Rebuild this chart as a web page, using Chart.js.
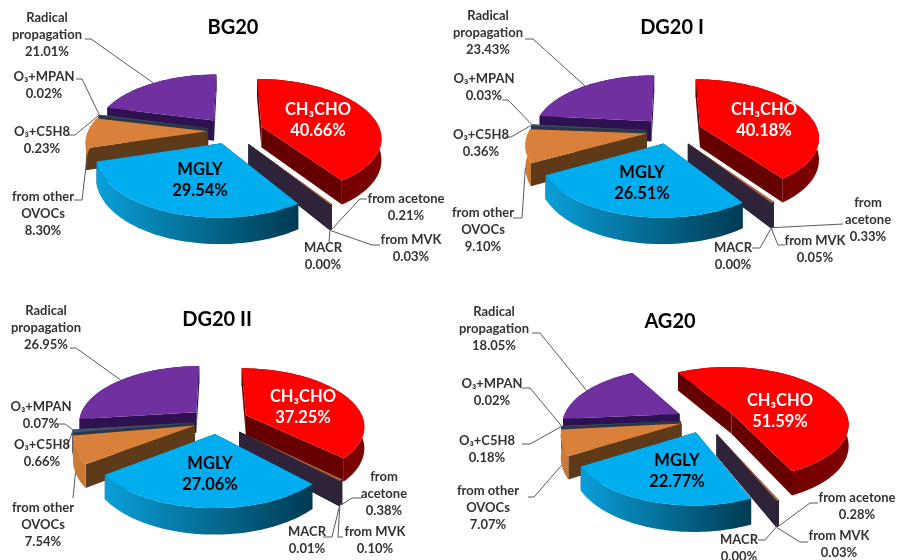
<!DOCTYPE html>
<html>
<head>
<meta charset="utf-8">
<title>Pie charts</title>
<script src="https://cdn.jsdelivr.net/npm/chart.js@4"></script>
<style>
  html, body { margin: 0; background: #fff; overflow: hidden; }
  #page { position: relative; width: 897px; height: 560px; }
  #page canvas { position: absolute; left: 0; top: 0; }
</style>
</head>
<body>
<div id="page"></div>
<script>
const categories = ['CH₃CHO', 'from acetone', 'from MVK', 'MACR', 'MGLY', 'from other OVOCs', 'O₃+C5H8', 'O₃+MPAN', 'Radical propagation'];

const bg20Values = [40.66, 0.21, 0.03, 0.00, 29.54, 8.30, 0.23, 0.02, 21.01];
const dg20iValues = [40.18, 0.33, 0.05, 0.00, 26.51, 9.10, 0.36, 0.03, 23.43];
const dg20iiValues = [37.25, 0.38, 0.10, 0.01, 27.06, 7.54, 0.66, 0.07, 26.95];
const ag20Values = [51.59, 0.28, 0.03, 0.00, 22.77, 7.07, 0.18, 0.02, 18.05];

const topColors = ['#ff0000', '#c0693f', '#8a5a44', '#a0522d', '#00adef', '#d9813b', '#44546a', '#8497b0', '#7030a0'];
const edgeColors = ['#660000', '#2e2339', '#2e2339', '#2e2339', '#004a66', '#5f3a18', '#2b3648', '#2b3648', '#2e1150'];
const rimColors = [['#5e0000', '#7e0000'], ['#2e2339', '#2e2339'], ['#2e2339', '#2e2339'], ['#2e2339', '#2e2339'],
  ['#0a9fd8', '#003a52'], ['#d07c38', '#c87632'], ['#2b3648', '#2b3648'], ['#2b3648', '#2b3648'], ['#2e1150', '#2e1150']];

// how far each slice is pulled out of the pie, as a share of the radius
const pull = [0.27, 0.26, 0.26, 0.26, 0.22, 0.2, 0.2, 0.2, 0.24];
// back to front, so nearer slices cover the walls behind them
const drawOrder = [8, 7, 6, 5, 0, 1, 2, 3, 4];
// leaders for these slices end at the foot of the wall, not on the top face
const footAnchored = [1, 2, 3, 5];

const PERSPECTIVE = 0.17;
const SQUASH = 0.48;
const DEPTH = 21;

const panels = [
  {
    title: 'BG20', titlePos: [233, 28], values: bg20Values, center: [231, 131], radius: 119, rotation: 0,
    textPos: [[318, 110], [406, 199], [411, 240], [323, 248], [200, 170], [43, 197], [42, 132], [44, 77], [47, 18]],
    elbows: [null, [[367, 199], [360, 199]], [[380, 245], [372, 245]], [[329, 242]], null,
      [[74, 200], [82, 200]], [[68, 135], [75, 135]], [[76, 79], [82, 79]], [[85, 39], [91, 39]]]
  },
  {
    title: 'DG20 I', titlePos: [672, 28], values: dg20iValues, center: [670, 131], radius: 118, rotation: 0, splitAcetone: true,
    textPos: [[764, 110], [868, 203], [815, 241], [733, 248], [642, 173], [483, 213], [481, 135], [484, 79], [488, 16]],
    elbows: [null, [[843, 224]], [[785, 245], [778, 245]], [[752, 248], [760, 248]], null,
      [[513, 218], [522, 218]], [[505, 137], [511, 137]], [[502, 100], [508, 100]], [[525, 39], [533, 39]]]
  },
  {
    title: 'DG20 II', titlePos: [217, 320], values: dg20iiValues, center: [217, 421], radius: 118, rotation: 0, splitAcetone: true,
    textPos: [[303, 397], [384, 477], [375, 532], [307, 532], [210, 464], [43, 508], [42, 445], [41, 407], [46, 311]],
    elbows: [null, [[362, 498], [352, 498]], [[343, 537], [338, 537]], [[323, 537], [332, 537]], null,
      [[73, 498]], [[67, 447]], [[58, 424], [65, 424]], [[70, 348], [76, 348]]]
  },
  {
    title: 'AG20', titlePos: [670, 322], values: ag20Values, center: [704, 420], radius: 117, rotation: -30,
    textPos: [[780, 401], [857, 498], [839, 536], [739, 540], [677, 461], [488, 491], [487, 441], [492, 384], [494, 312]],
    elbows: [null, [[818, 503], [810, 503]], [[808, 542], [800, 542]], [[758, 540], [765, 540]], null,
      [[528, 497], [534, 497]], [[522, 444], [530, 444]], [[522, 388], [530, 388]], [[532, 333], [540, 333]]]
  }
];

// maps a point on the pie's plane (radius 1) to the screen; h pushes it down the wall
function projector(arc) {
  const r = arc.outerRadius;
  return (x, y, h = 0) => {
    const w = 1 - PERSPECTIVE * y;
    return [arc.x + x * r / w, arc.y + (SQUASH * r * y + h) / w];
  };
}

function sliceGeometry(arc, index) {
  const mid = (arc.startAngle + arc.endAngle) / 2;
  const ox = Math.cos(mid) * pull[index];
  const oy = Math.sin(mid) * pull[index];
  const project = projector(arc);
  return {
    mid,
    at: (angle, r, h) => project(ox + r * Math.cos(angle), oy + r * Math.sin(angle), h)
  };
}

function fillPath(ctx, points, fill) {
  ctx.beginPath();
  points.forEach((p, i) => (i ? ctx.lineTo(p[0], p[1]) : ctx.moveTo(p[0], p[1])));
  ctx.closePath();
  ctx.fillStyle = fill;
  ctx.fill();
}

// Pie whose slices are drawn as extruded wedges in perspective
class Pie3DController extends Chart.PieController {
  draw() {
    const ctx = this.chart.ctx;
    const arcs = this.getMeta().data;
    drawOrder.forEach(index => {
      const arc = arcs[index];
      const sweep = arc.endAngle - arc.startAngle;
      if (sweep <= 0) return;
      const { at } = sliceGeometry(arc, index);
      const steps = Math.ceil(sweep / 0.03);
      const outer = [];
      const foot = [];
      for (let i = 0; i <= steps; i++) {
        const angle = arc.startAngle + sweep * i / steps;
        outer.push(at(angle, 1, 0));
        foot.unshift(at(angle, 1, DEPTH));
      }
      [arc.startAngle, arc.endAngle].forEach(angle => {
        fillPath(ctx, [at(angle, 0, 0), at(angle, 1, 0), at(angle, 1, DEPTH), at(angle, 0, DEPTH)], edgeColors[index]);
      });
      const xs = outer.map(p => p[0]);
      const rim = ctx.createLinearGradient(Math.min(...xs), 0, Math.max(...xs), 0);
      rim.addColorStop(0, rimColors[index][0]);
      rim.addColorStop(1, rimColors[index][1]);
      fillPath(ctx, outer.concat(foot), rim);
      fillPath(ctx, [at(arc.startAngle, 0, 0)].concat(outer), topColors[index]);
    });
  }
}
Pie3DController.id = 'pie3d';
Pie3DController.defaults = {};
Chart.register(Pie3DController);

function labelLines(panel, index) {
  const value = panel.values[index].toFixed(2) + '%';
  if (index === 1 && panel.splitAcetone) return ['from', 'acetone', value];
  if (index === 5) return ['from other', 'OVOCs', value];
  if (index === 8) return ['Radical', 'propagation', value];
  return [categories[index], value];
}

const textPlugin = {
  id: 'pieText',
  afterDraw(chart, args, opts) {
    const ctx = chart.ctx;
    const panel = opts.panel;
    const arcs = chart.getDatasetMeta(0).data;
    ctx.save();
    ctx.textAlign = 'center';
    ctx.textBaseline = 'middle';

    // leader lines
    ctx.strokeStyle = '#595959';
    ctx.lineWidth = 1;
    panel.elbows.forEach((points, index) => {
      if (!points) return;
      const { at, mid } = sliceGeometry(arcs[index], index);
      const end = at(mid, 1, footAnchored.includes(index) ? DEPTH : 0);
      ctx.beginPath();
      points.forEach((p, i) => (i ? ctx.lineTo(p[0], p[1]) : ctx.moveTo(p[0], p[1])));
      ctx.lineTo(end[0], end[1]);
      ctx.stroke();
    });

    ctx.font = 'bold 20px Lato';
    ctx.fillStyle = '#000';
    ctx.fillText(panel.title, panel.titlePos[0], panel.titlePos[1]);

    categories.forEach((name, index) => {
      const inner = index === 0 || index === 4;
      const step = inner ? 21 : 17;
      ctx.font = inner ? 'bold 16.5px Lato' : 'bold 13px Lato';
      ctx.fillStyle = index === 0 ? '#fff' : index === 4 ? '#000' : '#333';
      labelLines(panel, index).forEach((line, i) => {
        ctx.fillText(line, panel.textPos[index][0], panel.textPos[index][1] + i * step);
      });
    });
    ctx.restore();
  }
};

const page = document.getElementById('page');
panels.forEach(panel => {
  const canvas = document.createElement('canvas');
  canvas.width = 897;
  canvas.height = 560;
  page.appendChild(canvas);
  // padding moves the middle of the chart area onto the pie's centre
  const [cx, cy] = panel.center;
  new Chart(canvas, {
    type: 'pie3d',
    data: {
      labels: categories,
      datasets: [{ data: panel.values, backgroundColor: topColors, borderWidth: 0, radius: panel.radius, rotation: panel.rotation }]
    },
    options: {
      responsive: false,
      animation: false,
      layout: { padding: {
        left: Math.max(2 * cx - 897, 0), right: Math.max(897 - 2 * cx, 0),
        top: Math.max(2 * cy - 560, 0), bottom: Math.max(560 - 2 * cy, 0)
      } },
      plugins: { legend: { display: false }, tooltip: { enabled: false }, pieText: { panel } }
    },
    plugins: [textPlugin]
  });
});
</script>
</body>
</html>
